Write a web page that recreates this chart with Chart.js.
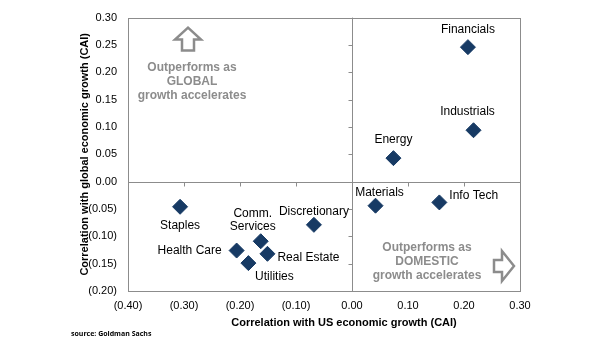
<!DOCTYPE html>
<html>
<head>
<meta charset="utf-8">
<style>
  html, body { margin: 0; padding: 0; background: #fff; }
  #wrap { width: 605px; height: 341px; }
</style>
<script src="https://cdn.jsdelivr.net/npm/chart.js@4.4.1/dist/chart.umd.min.js"></script>
</head>
<body>
<div id="wrap"><canvas id="scatter"></canvas></div>
<script>
// Sector correlations with US (x) and global (y) economic growth
const sectors = ['Financials', 'Industrials', 'Energy', 'Materials', 'Info Tech', 'Staples',
                 'Discretionary', 'Comm.\nServices', 'Health Care', 'Real Estate', 'Utilities'];
const usCorr = [0.207, 0.217, 0.074, 0.042, 0.156, -0.307, -0.068, -0.163, -0.206, -0.151, -0.185];
const globalCorr = [0.246, 0.094, 0.043, -0.044, -0.038, -0.046, -0.079, -0.109, -0.126, -0.132, -0.149];

const xTicks = [-0.4, -0.3, -0.2, -0.1, 0, 0.1, 0.2, 0.3];
const yTicks = [-0.2, -0.15, -0.1, -0.05, 0, 0.05, 0.1, 0.15, 0.2, 0.25, 0.3];

// label placement relative to each diamond: [dx, dy, align]
const labelPos = [
  [0, -17, 'center'], [-6, -19, 'center'], [0, -18, 'center'], [4, -13, 'center'],
  [10, -7, 'left'], [0, 19, 'center'], [0, -13, 'center'], [-8, -28, 'center'],
  [-15, 0, 'right'], [10, 4, 'left'], [26, 14, 'center']
];

const fmt = v => {
  const s = Math.abs(v).toFixed(2);
  return v < -1e-9 ? '(' + s + ')' : s;
};

const GRAY = '#8c8c8c';
const FONT = "'Liberation Sans', Arial, sans-serif";

const overlay = {
  id: 'overlay',
  beforeDatasetsDraw(chart) {
    const { ctx, chartArea: a, scales: { x, y } } = chart;
    const x0 = Math.round(x.getPixelForValue(0)) + 0.5;
    const y0 = Math.round(y.getPixelForValue(0)) + 0.5;
    ctx.save();
    ctx.strokeStyle = GRAY;
    ctx.lineWidth = 1;
    ctx.strokeRect(Math.round(a.left) + 0.5, Math.round(a.top) + 0.5,
                   Math.round(a.width), Math.round(a.height));
    ctx.beginPath();
    ctx.moveTo(x0, a.top); ctx.lineTo(x0, a.bottom);
    ctx.moveTo(a.left, y0); ctx.lineTo(a.right, y0);
    // small ticks on the crossing axes
    yTicks.forEach(v => {
      const py = Math.round(y.getPixelForValue(v)) + 0.5;
      ctx.moveTo(x0 - 4, py); ctx.lineTo(x0, py);
    });
    xTicks.forEach(v => {
      const px = Math.round(x.getPixelForValue(v)) + 0.5;
      ctx.moveTo(px, y0); ctx.lineTo(px, y0 + 4);
    });
    ctx.stroke();
    ctx.restore();
  },
  afterDatasetsDraw(chart) {
    const { ctx, chartArea: a, scales: { x, y } } = chart;
    ctx.save();
    // sector labels
    ctx.fillStyle = '#000';
    ctx.font = '12px ' + FONT;
    ctx.textBaseline = 'middle';
    sectors.forEach((name, i) => {
      const [dx, dy, align] = labelPos[i];
      const px = x.getPixelForValue(usCorr[i]) + dx;
      const py = y.getPixelForValue(globalCorr[i]) + dy;
      ctx.textAlign = align;
      name.split('\n').forEach((line, k) => ctx.fillText(line, px, py + k * 13));
    });

    // quadrant notes
    ctx.fillStyle = GRAY;
    ctx.font = 'bold 12px ' + FONT;
    ctx.textAlign = 'center';
    const gx = a.left + 64, gy = a.top + 50;
    ['Outperforms as', 'GLOBAL', 'growth accelerates'].forEach((t, k) => ctx.fillText(t, gx, gy + k * 14));
    const dxm = a.right - 93, dym = a.bottom - 43;
    ['Outperforms as', 'DOMESTIC', 'growth accelerates'].forEach((t, k) => ctx.fillText(t, dxm, dym + k * 14));

    // outlined arrows
    ctx.strokeStyle = GRAY;
    ctx.lineWidth = 2.5;
    ctx.lineJoin = 'miter';
    const ux = a.left + 60, uy = a.top + 10;
    ctx.beginPath();
    ctx.moveTo(ux, uy);
    ctx.lineTo(ux + 13, uy + 12);
    ctx.lineTo(ux + 6, uy + 12);
    ctx.lineTo(ux + 6, uy + 23);
    ctx.lineTo(ux - 6, uy + 23);
    ctx.lineTo(ux - 6, uy + 12);
    ctx.lineTo(ux - 13, uy + 12);
    ctx.closePath();
    ctx.stroke();
    const rx = a.right - 6, ry = a.bottom - 25;
    ctx.beginPath();
    ctx.moveTo(rx, ry);
    ctx.lineTo(rx - 12, ry - 15);
    ctx.lineTo(rx - 12, ry - 6);
    ctx.lineTo(rx - 20, ry - 6);
    ctx.lineTo(rx - 20, ry + 6);
    ctx.lineTo(rx - 12, ry + 6);
    ctx.lineTo(rx - 12, ry + 15);
    ctx.closePath();
    ctx.stroke();

    // axis titles and source
    ctx.fillStyle = '#000';
    ctx.font = 'bold 11px ' + FONT;
    ctx.textAlign = 'center';
    ctx.fillText('Correlation with US economic growth (CAI)', (a.left + a.right) / 2 + 20, 323);
    ctx.save();
    ctx.translate(85, (a.top + a.bottom) / 2);
    ctx.rotate(-Math.PI / 2);
    ctx.fillText('Correlation with global economic growth (CAI)', 0, 0);
    ctx.restore();
    ctx.font = "bold 7px 'Open Sans', " + FONT;
    ctx.textAlign = 'left';
    ctx.fillText('source: Goldman Sachs', 71, 334);
    ctx.restore();
  }
};

new Chart(document.getElementById('scatter'), {
  type: 'scatter',
  data: {
    datasets: [{
      data: usCorr.map((v, i) => ({ x: v, y: globalCorr[i] })),
      pointStyle: 'rectRot',
      pointRadius: 7.5,
      pointHoverRadius: 7.5,
      backgroundColor: '#173a64',
      borderColor: '#173a64',
      borderWidth: 1
    }]
  },
  options: {
    responsive: true,
    maintainAspectRatio: false,
    animation: false,
    layout: { padding: { left: 0, right: 85, top: 16, bottom: 0 } },
    plugins: { legend: { display: false }, tooltip: { enabled: false } },
    scales: {
      x: {
        type: 'linear',
        min: -0.4, max: 0.3,
        afterBuildTicks: s => { s.ticks = xTicks.map(v => ({ value: v })); },
        afterFit: s => { s.height = 50; },
        grid: { display: false, drawTicks: false },
        border: { display: false },
        ticks: { padding: 8, color: '#000', font: { family: FONT, size: 11 }, callback: fmt, maxRotation: 0 }
      },
      y: {
        type: 'linear',
        min: -0.2, max: 0.3,
        afterBuildTicks: s => { s.ticks = yTicks.map(v => ({ value: v })); },
        afterFit: s => { s.width = 128; },
        grid: { display: false, drawTicks: false },
        border: { display: false },
        ticks: { padding: 11, color: '#000', font: { family: FONT, size: 11 }, callback: fmt }
      }
    }
  },
  plugins: [overlay]
});
</script>
</body>
</html>
